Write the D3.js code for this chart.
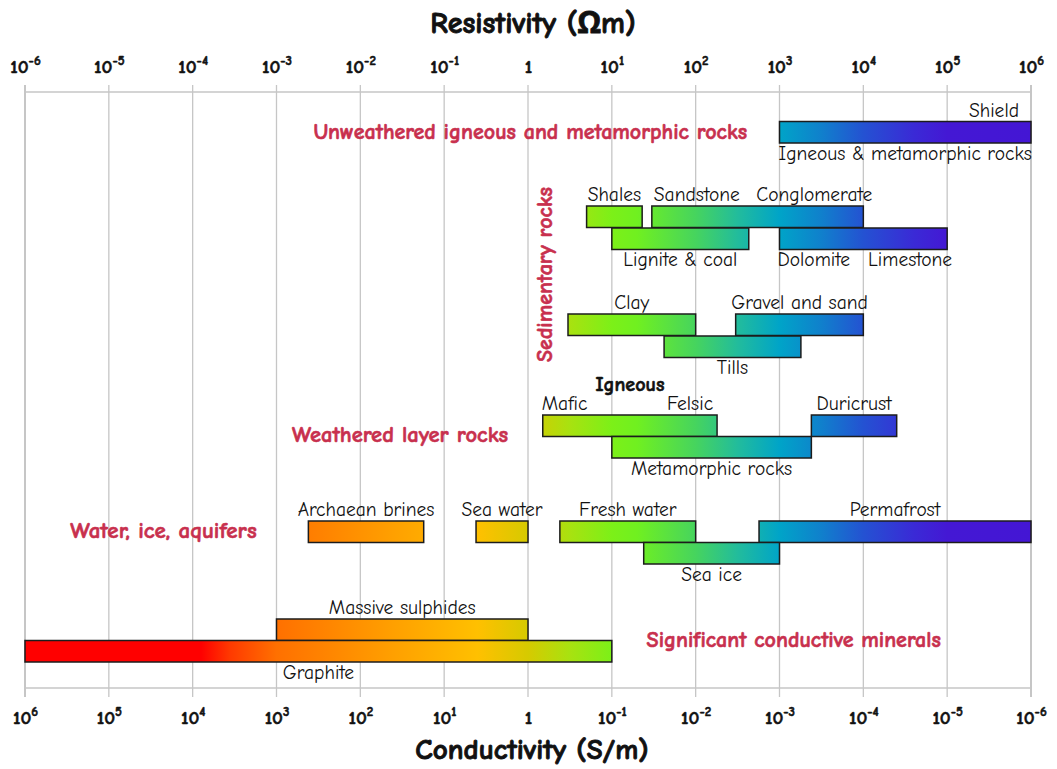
<!DOCTYPE html>
<html>
<head>
<meta charset="utf-8">
<script src="https://cdn.jsdelivr.net/npm/d3@7"></script>
<style>
  body { margin: 0; background: #fff; }
  svg { display: block; font-family: "Comic Sans MS", "Comic Neue", "Open Sans", sans-serif; }
</style>
</head>
<body>
<svg id="chart" width="1057" height="769"></svg>
<script>
// ---- data -------------------------------------------------------------
// Axis decades (exponent of 10, resistivity in Ωm)
const decades = [-6, -5, -4, -3, -2, -1, 0, 1, 2, 3, 4, 5, 6];

// Resistivity ranges of materials, Ωm
const barKeys = ["shield", "shales", "sandstone", "lignite", "dolomite", "clay", "gravel", "tills",
                 "igneousW", "duricrust", "metamorphicW", "brines", "seawater", "freshwater",
                 "permafrost", "seaice", "sulphides", "graphite"];
const barLane = ["igneous", "sedA", "sedA", "sedB", "sedB", "sedC", "sedC", "sedD",
                 "wlA", "wlA", "wlB", "watA", "watA", "watA",
                 "watA", "watB", "minA", "minB"];
const barLow  = [1000, 5, 30, 10, 1000, 3, 300, 42,
                 1.5, 2400, 10, 0.0024, 0.24, 2.4,
                 570, 24, 0.001, 0.000001];
const barHigh = [1000000, 23, 10000, 430, 100000, 100, 10000, 1800,
                 180, 25000, 2400, 0.057, 1, 100,
                 1000000, 1000, 1, 10];

// Material names, attached to a bar: side of the bar and horizontal alignment
const labelText  = ["Shield", "Igneous & metamorphic rocks", "Shales", "Sandstone", "Conglomerate",
                    "Lignite & coal", "Dolomite", "Limestone", "Clay", "Gravel and sand", "Tills",
                    "Igneous", "Mafic", "Felsic", "Duricrust", "Metamorphic rocks",
                    "Archaean brines", "Sea water", "Fresh water", "Permafrost", "Sea ice",
                    "Massive sulphides", "Graphite"];
const labelBar   = ["shield", "shield", "shales", "sandstone", "sandstone",
                    "lignite", "dolomite", "dolomite", "clay", "gravel", "tills",
                    "igneousW", "igneousW", "igneousW", "duricrust", "metamorphicW",
                    "brines", "seawater", "freshwater", "permafrost", "seaice",
                    "sulphides", "graphite"];
const labelSide  = ["above", "below", "above", "above", "above",
                    "below", "below", "below", "above", "above", "below",
                    "head", "above", "above", "above", "below",
                    "above", "above", "above", "above", "below",
                    "above", "below"];
const labelAlign = ["end", "middle", "middle", "start", "end",
                    "middle", "start", "end", "middle", "middle", "middle",
                    "middle", "start", "end", "middle", "middle",
                    "middle", "middle", "middle", "middle", "middle",
                    "middle", "middle"];

// Group headings
const groupText = ["Unweathered igneous and metamorphic rocks", "Sedimentary rocks",
                   "Weathered layer rocks", "Water, ice, aquifers", "Significant conductive minerals"];
const groupAt   = [410, 1.6, 0.58, 0.00058, 26];          // Ωm
const groupLane = ["igneous", "sedA", "wlA", "watA", "minA"];

// Axis titles
const topTitle = "Resistivity (Ωm)";
const bottomTitle = "Conductivity (S/m)";

// ---- layout -----------------------------------------------------------
const svg = d3.select("#chart");
const x = d3.scaleLog().domain([1e-6, 1e6]).range([25, 1031]);

const laneKeys = ["igneous", "sedA", "sedB", "sedC", "sedD", "wlA", "wlB", "watA", "watB", "minA", "minB"];
const y = d3.scaleOrdinal(laneKeys, [121.5, 206, 228, 314, 336, 415, 436.5, 521, 542.5, 619, 640.5]);
const barH = 21.5;

const groupAnchor = ["end", "middle", "end", "end", "start"];
const groupSize   = [22, 22, 22.5, 23, 22];
const groupDy     = [17, 74.5, 26.5, 16.5, 27.5];   // baseline offset from lane top
const labelNudge  = { Shield: -12, Conglomerate: 9, Limestone: 5, Felsic: -4, Sandstone: 2, Dolomite: -2, Mafic: -1 };

const gridColor = "#c6c6c6";
const headColor = "#c8304e";
const gridTop = 85, axisTop = 92, axisBottom = 688, gridBottom = 697;

// Colour ramp along the resistivity axis (log10 Ωm -> colour)
const ramp = [[-6, "#ff0000"], [-3.9, "#ff0000"], [-3.55, "#ff3a00"], [-3, "#ff7000"], [-1.6, "#ffa000"],
              [-0.6, "#ffc000"], [0, "#d6ca00"], [0.5, "#a8e210"], [1, "#7cf018"], [1.3, "#70f020"],
              [2, "#46d45e"], [2.5, "#22bc9c"], [3, "#00a4c8"], [3.5, "#1080cc"], [4, "#2452d2"],
              [4.6, "#3a2ad6"], [5, "#4418d4"], [6, "#4416d4"]];

const defs = svg.append("defs");
const grad = defs.append("linearGradient")
  .attr("id", "ramp").attr("gradientUnits", "userSpaceOnUse")
  .attr("x1", x(1e-6)).attr("x2", x(1e6)).attr("y1", 0).attr("y2", 0);
const span = x(1e6) - x(1e-6);
grad.selectAll("stop").data(ramp).join("stop")
  .attr("offset", d => (x(Math.pow(10, d[0])) - x(1e-6)) / span)
  .attr("stop-color", d => d[1]);

// Heavy text: bold weight plus a thin outline in the same colour
function heavy(sel, color, w) {
  sel.attr("font-weight", "bold").attr("fill", color)
     .attr("stroke", color).attr("stroke-width", w).attr("stroke-linejoin", "round");
}

// ---- grid and axes ----------------------------------------------------
const grid = svg.append("g").attr("class", "grid");
grid.selectAll("line.v").data(decades).join("line")
  .attr("class", "v")
  .attr("x1", d => x(Math.pow(10, d))).attr("x2", d => x(Math.pow(10, d)))
  .attr("y1", gridTop).attr("y2", gridBottom)
  .attr("stroke", gridColor)
  .attr("stroke-width", (d, i) => (i === 0 || i === decades.length - 1) ? 2 : 1.3);
grid.selectAll("line.h").data([axisTop, axisBottom]).join("line")
  .attr("class", "h")
  .attr("x1", x(1e-6)).attr("x2", x(1e6))
  .attr("y1", d => d).attr("y2", d => d)
  .attr("stroke", gridColor).attr("stroke-width", 1.5);

function powerLabel(sel, expOf) {
  sel.each(function (d) {
    const t = d3.select(this);
    const e = expOf(d);
    t.text(null);
    if (e === 0) { t.text("1"); return; }
    t.append("tspan").text("10");
    t.append("tspan").attr("dy", -8).attr("font-size", 13).text(e < 0 ? "-" + (-e) : String(e));
  });
}

const tickVals = decades.map(e => Math.pow(10, e));

const topAxis = svg.append("g").attr("transform", `translate(0,72.5)`)
  .call(d3.axisTop(x).tickValues(tickVals).tickSize(0).tickPadding(0));
topAxis.select(".domain").remove();
topAxis.selectAll("text")
  .attr("y", 0).attr("dy", 0).attr("font-family", null).attr("font-size", 19)
  .call(heavy, "#111", 0.55)
  .call(powerLabel, d => Math.round(Math.log10(d)));
topAxis.attr("font-family", null).attr("font-size", null);

const botAxis = svg.append("g").attr("transform", `translate(0,724)`)
  .call(d3.axisBottom(x).tickValues(tickVals).tickSize(0).tickPadding(0));
botAxis.select(".domain").remove();
botAxis.selectAll("text")
  .attr("y", 0).attr("dy", 0).attr("font-family", null).attr("font-size", 19)
  .call(heavy, "#111", 0.55)
  .call(powerLabel, d => -Math.round(Math.log10(d)));
botAxis.attr("font-family", null).attr("font-size", null);

svg.append("text").attr("x", 533).attr("y", 33)
  .attr("text-anchor", "middle").attr("font-size", 30)
  .call(heavy, "#111", 0.9)
  .text(topTitle);
svg.append("text").attr("x", 532).attr("y", 759)
  .attr("text-anchor", "middle").attr("font-size", 29)
  .call(heavy, "#111", 0.9)
  .text(bottomTitle);

// ---- bars -------------------------------------------------------------
const bars = barKeys.map((k, i) => ({ key: k, lane: barLane[i], lo: barLow[i], hi: barHigh[i] }));
const barByKey = new Map(bars.map(b => [b.key, b]));

svg.append("g").attr("class", "bars")
  .selectAll("rect").data(bars).join("rect")
  .attr("x", d => x(d.lo))
  .attr("y", d => y(d.lane))
  .attr("width", d => x(d.hi) - x(d.lo))
  .attr("height", barH)
  .attr("fill", "url(#ramp)")
  .attr("stroke", "#1c1c1c")
  .attr("stroke-width", 1.5);

// ---- material labels --------------------------------------------------
const labels = labelText.map((t, i) => ({ text: t, bar: barByKey.get(labelBar[i]), side: labelSide[i], align: labelAlign[i] }));
const lab = svg.append("g").attr("class", "labels")
  .selectAll("text").data(labels).join("text")
  .attr("x", d => {
    const b = d.bar;
    const base = d.align === "start" ? x(b.lo) : d.align === "end" ? x(b.hi) : (x(b.lo) + x(b.hi)) / 2;
    return base + (labelNudge[d.text] || 0);
  })
  .attr("y", d => {
    const top = y(d.bar.lane);
    if (d.side === "above") return top - 5;
    if (d.side === "head") return top - 24;
    return top + barH + 16.5;
  })
  .attr("text-anchor", d => d.align)
  .attr("font-size", d => d.side === "head" ? 20 : 19.5)
  .attr("fill", "#111")
  .text(d => d.text);
lab.filter(d => d.side === "head").call(heavy, "#111", 0.6);

// ---- group headings ---------------------------------------------------
const groups = groupText.map((t, i) => ({ text: t, at: groupAt[i], lane: groupLane[i], anchor: groupAnchor[i], dy: groupDy[i], size: groupSize[i] }));
svg.append("g").attr("class", "groups")
  .selectAll("text").data(groups).join("text")
  .attr("transform", d => d.text === "Sedimentary rocks"
    ? `translate(${x(d.at) + 7},${y(d.lane) + d.dy - 6}) rotate(-90)`
    : `translate(${x(d.at)},${y(d.lane) + d.dy})`)
  .attr("text-anchor", d => d.anchor)
  .attr("font-size", d => d.size)
  .call(heavy, headColor, 0.6)
  .text(d => d.text);
</script>
</body>
</html>
